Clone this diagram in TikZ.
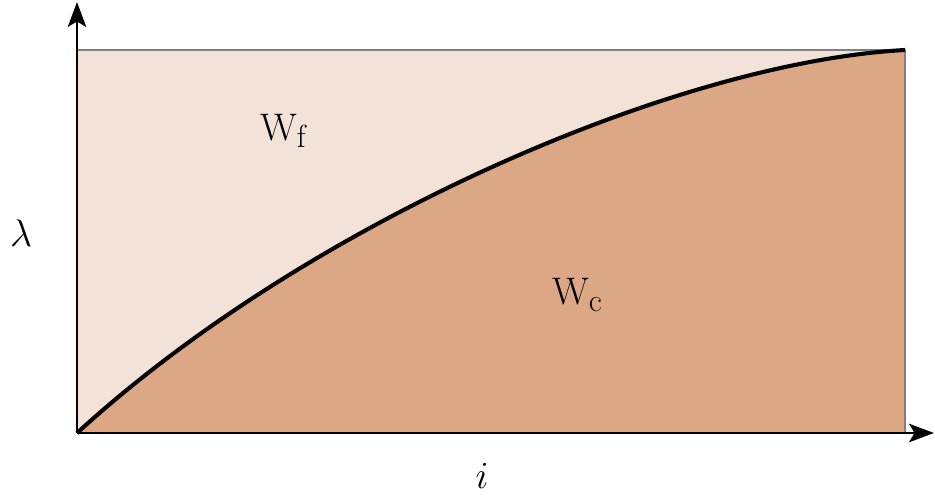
\documentclass[tikz,border=0pt]{standalone}
\usetikzlibrary{arrows.meta}
\definecolor{freeC}{HTML}{F2E2D7}
\definecolor{costC}{HTML}{DCA784}
\newcommand{\wsub}[1]{W\raisebox{-3.8pt}{\LARGE #1}}
\tikzset{
  axis/.style={-{Stealth[length=13.5pt,width=10pt,inset=3pt]}, line width=1.1pt},
  frame/.style={draw=gray, line width=0.7pt},
  curve/.style={line width=2.2pt},
  lbl/.style={font=\huge, inner sep=0pt},
}

\begin{document}
\begin{tikzpicture}[x=0.54pt,y=-0.54pt]
\useasboundingbox (0,0) rectangle (935,495);
\coordinate (O) at (77,433);
\coordinate (top) at (905,50);
\coordinate (xend) at (934,433);
\coordinate (yend) at (77,2);
% the two areas
\fill[freeC] (O) rectangle (top);
\fill[costC] (O) .. controls (310,220) and (680,62) .. (top) -- (top |- O) -- cycle;
\draw[frame] (O |- top) -- (top) -- (top |- O);
\draw[curve] (O) .. controls (310,220) and (680,62) .. (top);
% axes
\draw[axis] (O) -- (xend);
\draw[axis] (O) -- (yend);
\node[lbl] (wf) at (283,131) {\wsub{f}};
\node[lbl] (wc) at (577,295) {\wsub{c}};
\node[lbl] (lam) at (21,233) {$\lambda$};
\node[lbl] (idx) at (482,476) {$i$};
\end{tikzpicture}
\end{document}
